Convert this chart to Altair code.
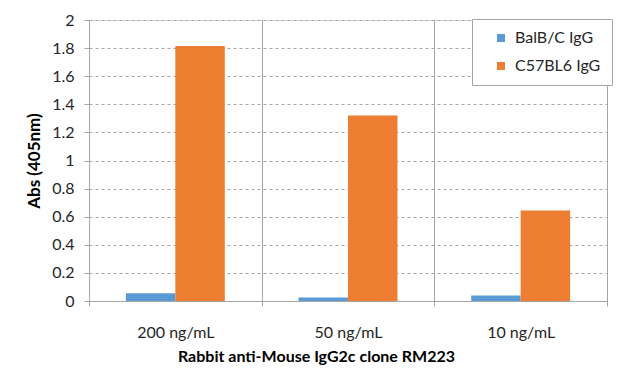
import altair as alt
import pandas as pd

categories = ["200 ng/mL", "50 ng/mL", "10 ng/mL"]
series = ["BalB/C IgG", "C57BL6 IgG"]
balbc = [0.055, 0.025, 0.04]
c57 = [1.815, 1.32, 0.645]
colors = ["#5B9BD5", "#ED7D31"]

rows = []
for i, c in enumerate(categories):
    rows.append({"cat": c, "series": series[0], "val": balbc[i]})
    rows.append({"cat": c, "series": series[1], "val": c57[i]})
df = pd.DataFrame(rows)

W, H = 518, 281
FONT = "Lato"

bars = alt.Chart(df).mark_bar().encode(
    x=alt.X("cat:N", sort=categories,
            scale=alt.Scale(paddingInner=0, paddingOuter=0),
            axis=alt.Axis(title="Rabbit anti-Mouse IgG2c clone RM223", labelAngle=0,
                          tickBand="extent", grid=True, gridColor="#A6A6A6", gridDash=[],
                          domainColor="#A6A6A6", tickColor="#A6A6A6", tickSize=5,
                          labelPadding=18, titlePadding=8, labelFontSize=16,
                          titleFontSize=16, titleX=227, titleAlign="center",
                          labelColor="#262626", titleColor="#000000")),
    xOffset=alt.XOffset("series:N", sort=series,
                        scale=alt.Scale(paddingInner=0, paddingOuter=0.745)),
    y=alt.Y("val:Q", scale=alt.Scale(domain=[0, 2]),
            axis=alt.Axis(title="Abs (405nm)", values=[0, 0.2, 0.4, 0.6, 0.8, 1, 1.2, 1.4, 1.6, 1.8, 2],
                          format="~g", grid=True, gridColor="#A6A6A6", gridDash=[3, 3],
                          domainColor="#A6A6A6", tickColor="#A6A6A6", tickSize=5,
                          labelPadding=10, titlePadding=8, labelFontSize=16,
                          titleFontSize=17, labelColor="#262626", titleColor="#000000")),
    color=alt.Color("series:N", sort=series,
                    scale=alt.Scale(domain=series, range=colors),
                    legend=alt.Legend(title=None, orient="none", legendX=383, legendY=-1,
                                      symbolType="square", symbolSize=64, labelFontSize=16,
                                      labelColor="#262626", rowPadding=12, padding=11,
                                      symbolOffset=10, labelOffset=6,
                                      fillColor="white", strokeColor="#A6A6A6")),
)

chart = bars.properties(
    width=W, height=H,
    autosize=alt.AutoSizeParams(type="none"),
    padding={"left": 81, "top": 12, "right": 20, "bottom": 78},
    background="white",
).configure_view(stroke=None).configure(font=FONT).configure_axis(
    titleFontWeight="bold", labelFont=FONT, titleFont=FONT
).configure_legend(labelFont=FONT)

chart.save("out.html", embed_options={"renderer": "svg", "actions": False})
